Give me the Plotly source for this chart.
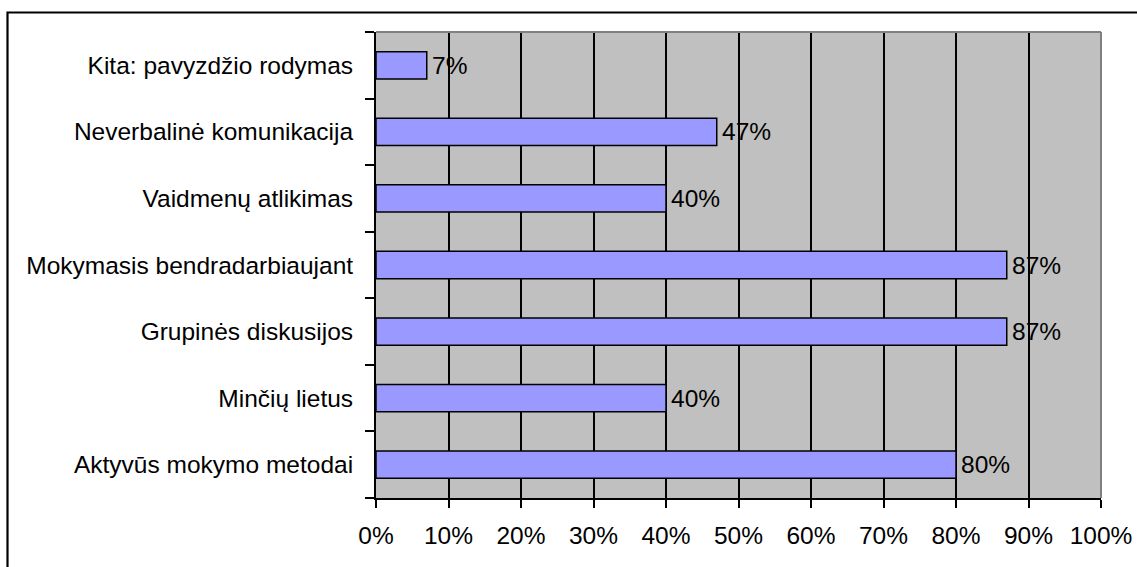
import plotly.graph_objects as go

categories = [
    "Aktyvūs mokymo metodai",
    "Minčių lietus",
    "Grupinės diskusijos",
    "Mokymasis bendradarbiaujant",
    "Vaidmenų atlikimas",
    "Neverbalinė komunikacija",
    "Kita: pavyzdžio rodymas",
]
values = [0.80, 0.40, 0.87, 0.87, 0.40, 0.47, 0.07]
value_labels = ["80%", "40%", "87%", "87%", "40%", "47%", "7%"]
x_tick_vals = [i / 10 for i in range(11)]
x_tick_text = [f"{i * 10}%" for i in range(11)]

W, H = 1137, 567
L, R, T, B = 376, 36, 32, 69
pw = W - L - R
ph = H - T - B

FONT = "Liberation Sans, Arial, sans-serif"
FS = 24.5

fig = go.Figure(
    go.Bar(
        x=values,
        y=categories,
        orientation="h",
        marker=dict(color="#9999FF", line=dict(color="black", width=1.5)),
        hoverinfo="skip",
    )
)

annotations = [
    dict(x=v, y=c, text=t, xref="x", yref="y", xanchor="left", yanchor="middle",
         xshift=3, showarrow=False, font=dict(family=FONT, size=FS, color="black"))
    for v, c, t in zip(values, categories, value_labels)
]


def px_x(p):
    return (p - L) / pw


def px_y(p):
    return (H - B - p) / ph


fig.update_layout(
    width=W,
    height=H,
    margin=dict(l=L, r=R, t=T, b=B, pad=0, autoexpand=False),
    paper_bgcolor="white",
    plot_bgcolor="#C0C0C0",
    bargap=0.59,
    showlegend=False,
    font=dict(family=FONT, size=FS, color="black"),
    annotations=annotations,
    shapes=[
        # plot area top and right border (gray)
        dict(type="line", xref="x domain", yref="y domain", x0=0, x1=1, y0=1, y1=1,
             line=dict(color="#808080", width=2), layer="above"),
        dict(type="line", xref="x domain", yref="y domain", x0=1, x1=1, y0=0, y1=1,
             line=dict(color="#808080", width=2), layer="above"),
        # outer frame (extends beyond the right and bottom of the picture)
        dict(type="rect", xref="paper", yref="paper",
             x0=px_x(7.5), x1=px_x(W + 10), y0=px_y(H + 10), y1=px_y(12.5),
             line=dict(color="black", width=2.2), fillcolor="rgba(0,0,0,0)", layer="above"),
    ],
)

fig.update_xaxes(
    automargin=False,
    range=[0, 1],
    tickvals=x_tick_vals,
    ticktext=x_tick_text,
    showgrid=True,
    gridcolor="black",
    gridwidth=1.5,
    zeroline=False,
    showline=True,
    linecolor="black",
    linewidth=2,
    ticks="outside",
    ticklen=8,
    tickwidth=1.5,
    tickcolor="black",
    ticklabelstandoff=7,
    tickfont=dict(family=FONT, size=FS, color="black"),
    fixedrange=True,
)

fig.update_yaxes(
    automargin=False,
    type="category",
    categoryorder="array",
    categoryarray=categories,
    tickson="boundaries",
    showgrid=False,
    zeroline=False,
    showline=True,
    linecolor="black",
    linewidth=2,
    ticks="outside",
    ticklen=9,
    tickwidth=1.5,
    tickcolor="black",
    ticklabelstandoff=16,
    tickfont=dict(family=FONT, size=FS, color="black"),
    fixedrange=True,
)

# Remove the browser's default 8px page margin so the figure fills the window exactly.
fig.write_html(
    "out.html",
    config={"displayModeBar": False},
    post_script="document.body.style.margin='0px';document.body.style.overflow='hidden';",
)
